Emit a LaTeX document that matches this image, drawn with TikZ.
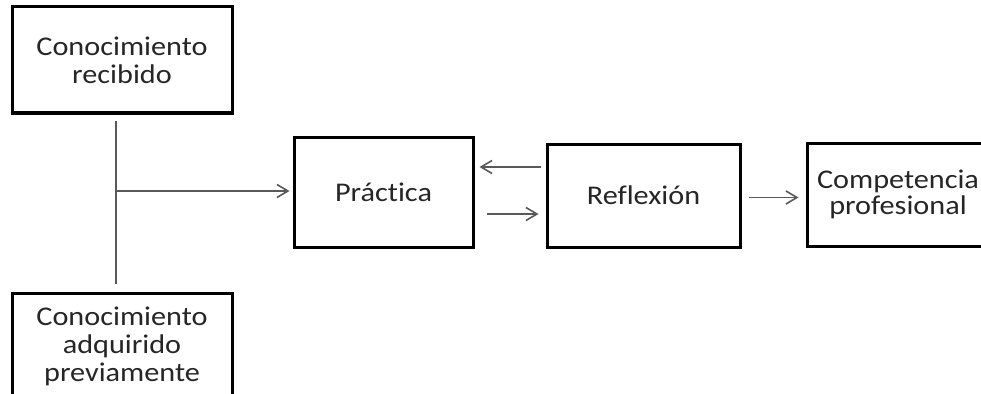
\documentclass[tikz,border=0pt]{standalone}
\usepackage{fontspec}
\setmainfont{Carlito}[FakeStretch=1.12,Ligatures={NoCommon,NoRare}]
\usetikzlibrary{arrows.meta,calc}
\begin{document}
\begin{tikzpicture}[x=1pt,y=-1pt,
  boxnode/.style={draw=black,line width=3pt,fill=white,inner sep=0pt,align=center,
    text=black!85,font=\fontsize{27}{28}\selectfont},
  conn/.style={draw=black!65,line width=1.6pt},
  arr/.style={conn,-{Straight Barb[length=11pt,width=13pt,line width=1.6pt]}}]
\useasboundingbox (0,0) rectangle (981,393);
\fill[white] (0,0) rectangle (981,393);
\node[boxnode,minimum width=220pt,minimum height=106pt] (c1) at (122,60) {Conocimiento\\recibido};
\node[boxnode,minimum width=220pt,minimum height=106pt] (c2) at (122,346) {Conocimiento\\adquirido\\previamente};
\node[boxnode,minimum width=179pt,minimum height=110pt] (prac) at (383.5,192) {Práctica};
\node[boxnode,minimum width=193pt,minimum height=103pt] (refl) at (643.5,195.5) {Reflexión};
\node[boxnode,minimum width=182pt,minimum height=103pt,font=\fontsize{27}{25.5}\selectfont] (comp) at (898,194.5) {Competencia\\profesional};
\coordinate (vtop) at ([xshift=-6pt,yshift=-6pt]c1.south);
\coordinate (vbot) at ([xshift=-6pt,yshift=8pt]c2.north);
\coordinate (junc) at (116,191);
\draw[conn] (vtop) -- (vbot);
\draw[arr,shorten >=3pt] (junc) -- (junc -| prac.west);
\draw[arr,shorten <=5pt,shorten >=5pt] ([yshift=28.5pt]refl.west) -- ([yshift=28.5pt]refl.west -| prac.east);
\draw[arr,shorten <=12pt,shorten >=7pt] ([yshift=-22pt]prac.east) -- ([yshift=-22pt]prac.east -| refl.west);
\draw[arr,shorten <=7pt,shorten >=7pt] ([yshift=-2pt]refl.east) -- ([yshift=-2pt]refl.east -| comp.west);
\end{tikzpicture}
\end{document}
